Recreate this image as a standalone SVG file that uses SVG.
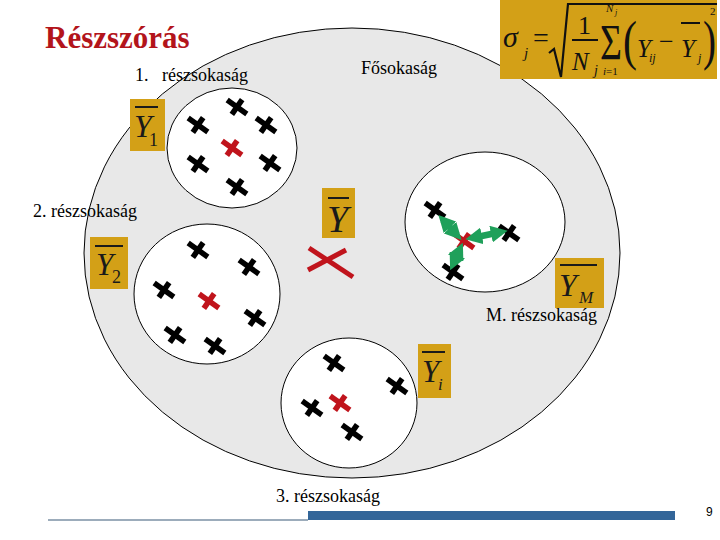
<svg xmlns="http://www.w3.org/2000/svg" xmlns:xlink="http://www.w3.org/1999/xlink" width="720" height="540" viewBox="0 0 720 540">
  <style>
    .lbl{font-family:"Liberation Serif","Times New Roman",serif;font-size:18px;fill:#000}
    .box{fill:#D3A017}
    .yv{font-family:"Liberation Serif","Times New Roman",serif;font-style:italic;fill:#1a1a1a}
    .sub{font-family:"Liberation Serif","Times New Roman",serif;fill:#1a1a1a}
    .bar{stroke:#1a1a1a;stroke-width:2}
    .circ{fill:#fff;stroke:#000;stroke-width:1}
    .fm{font-family:"Liberation Serif","Times New Roman",serif;fill:#111}
    .it{font-style:italic}
    .arr{stroke:#1FA05A;stroke-width:6.5;fill:none;marker-start:url(#ah);marker-end:url(#ah)}
  </style>
  <defs>
    <g id="xb">
      <g transform="rotate(35)">
        <line x1="-12" y1="0" x2="12" y2="0" stroke-width="5.5"/>
        <line x1="0" y1="-9" x2="0" y2="9" stroke-width="5.5"/>
      </g>
    </g>
    <marker id="ah" viewBox="0 0 10 10" refX="6" refY="5" markerWidth="2.6" markerHeight="2.6" orient="auto-start-reverse" markerUnits="strokeWidth">
      <path d="M0,0 L10,5 L0,10 z" fill="#1FA05A"/>
    </marker>
  </defs>

  <rect width="720" height="540" fill="#fff"/>

  <g id="population">
    <ellipse cx="352" cy="253" rx="268" ry="225" fill="#E8E8E8" stroke="#000" stroke-width="1"/>
    <text class="lbl" x="361" y="74">Fősokaság</text>
  </g>

  <g id="title">
    <text x="45" y="48" font-family="Liberation Serif,'Times New Roman',serif" font-weight="bold" font-size="31" fill="#B3141B">Részszórás</text>
  </g>

  <g id="formula">
    <rect x="500" y="0" width="217" height="79" fill="#D3A017"/>
    <text class="fm it" x="503" y="47" font-size="30">σ</text>
    <text class="fm it" x="524" y="58" font-size="15">j</text>
    <text class="fm" x="533" y="47" font-size="28">=</text>
    <polyline points="549,53 554,49 561,77 568,4 717,4" fill="none" stroke="#111" stroke-width="2.2"/>
    <text class="fm" x="578" y="34" font-size="26">1</text>
    <line x1="572" y1="40" x2="598" y2="40" stroke="#111" stroke-width="2"/>
    <text class="fm it" x="572" y="70" font-size="25">N</text>
    <text class="fm it" x="594" y="75" font-size="14">j</text>
    <text class="fm it" x="606" y="12" font-size="11">N</text>
    <text class="fm it" x="615" y="15" font-size="8">j</text>
    <text class="fm" x="600" y="59" font-size="50" textLength="22" lengthAdjust="spacingAndGlyphs">Σ</text>
    <text class="fm" x="603" y="75" font-size="11"><tspan class="it">i</tspan>=1</text>
    <text class="fm" x="623" y="59" font-size="54" textLength="14" lengthAdjust="spacingAndGlyphs">(</text>
    <text class="fm it" x="637" y="57" font-size="25">Y</text>
    <text class="fm it" x="649" y="62" font-size="12">ij</text>
    <text class="fm" x="659" y="50" font-size="26">−</text>
    <line x1="681" y1="23" x2="700" y2="23" stroke="#111" stroke-width="2"/>
    <text class="fm it" x="681" y="57" font-size="25">Y</text>
    <text class="fm it" x="698" y="62" font-size="12">j</text>
    <text class="fm" x="703" y="59" font-size="54" textLength="13" lengthAdjust="spacingAndGlyphs">)</text>
    <text class="fm" x="710" y="15" font-size="11">2</text>
  </g>

  <g id="group1">
    <ellipse class="circ" cx="232" cy="148" rx="65" ry="60"/>
    <text class="lbl" x="135" y="81" xml:space="preserve">1.   részsokaság</text>
    <g stroke="#000">
      <use xlink:href="#xb" x="198" y="125"/>
      <use xlink:href="#xb" x="237" y="107"/>
      <use xlink:href="#xb" x="266" y="125"/>
      <use xlink:href="#xb" x="198" y="164"/>
      <use xlink:href="#xb" x="270" y="163"/>
      <use xlink:href="#xb" x="237" y="187"/>
    </g>
    <use xlink:href="#xb" x="232" y="148" stroke="#C0141C"/>
    <rect class="box" x="130" y="99" width="35" height="52"/>
    <line class="bar" x1="135" y1="107" x2="158" y2="107"/>
    <text class="yv" x="134" y="137" font-size="32">Y</text>
    <text class="sub" x="149" y="146" font-size="18">1</text>
  </g>

  <g id="group2">
    <ellipse class="circ" cx="207" cy="294" rx="73" ry="70"/>
    <text class="lbl" x="33" y="217">2. részsokaság</text>
    <g stroke="#000">
      <use xlink:href="#xb" x="198" y="250"/>
      <use xlink:href="#xb" x="249" y="267"/>
      <use xlink:href="#xb" x="164" y="290"/>
      <use xlink:href="#xb" x="255" y="318"/>
      <use xlink:href="#xb" x="175" y="335"/>
      <use xlink:href="#xb" x="215" y="346"/>
    </g>
    <use xlink:href="#xb" x="209" y="301" stroke="#C0141C"/>
    <rect class="box" x="90" y="237" width="38" height="52"/>
    <line class="bar" x1="95" y1="246" x2="123" y2="246"/>
    <text class="yv" x="96" y="275" font-size="31">Y</text>
    <text class="sub" x="112" y="283" font-size="18">2</text>
  </g>

  <g id="group3">
    <ellipse class="circ" cx="349" cy="403" rx="68" ry="65"/>
    <text class="lbl" x="276" y="502">3. részsokaság</text>
    <g stroke="#000">
      <use xlink:href="#xb" x="334" y="363"/>
      <use xlink:href="#xb" x="397" y="386"/>
      <use xlink:href="#xb" x="312" y="408"/>
      <use xlink:href="#xb" x="352" y="432"/>
    </g>
    <use xlink:href="#xb" x="340" y="403" stroke="#C0141C"/>
    <rect class="box" x="418" y="344" width="33" height="54"/>
    <line class="bar" x1="422" y1="352" x2="445" y2="352"/>
    <text class="yv" x="422" y="382" font-size="31">Y</text>
    <text class="yv" x="438" y="390" font-size="17">i</text>
  </g>

  <g id="groupM">
    <ellipse class="circ" cx="485" cy="222" rx="80" ry="70"/>
    <text class="lbl" x="486" y="321">M. részsokaság</text>
    <g stroke="#000">
      <use xlink:href="#xb" x="435" y="210"/>
      <use xlink:href="#xb" x="509" y="233"/>
      <use xlink:href="#xb" x="453" y="272"/>
    </g>
    <use xlink:href="#xb" x="464" y="241" stroke="#C0141C"/>
    <rect class="box" x="555" y="258" width="49" height="50"/>
    <line class="bar" x1="560" y1="265" x2="597" y2="265"/>
    <text class="yv" x="559" y="296" font-size="32">Y</text>
    <text class="yv" x="579" y="303" font-size="17">M</text>
  </g>

  <g id="grandmean">
    <rect class="box" x="322" y="188" width="33" height="50"/>
    <line class="bar" x1="328" y1="198" x2="349" y2="198"/>
    <text class="yv" x="327" y="232" font-size="38">Y</text>
    <g stroke="#C0141C" stroke-width="5">
      <line x1="309" y1="248" x2="353" y2="277"/>
      <line x1="308" y1="270" x2="346" y2="250"/>
    </g>
  </g>

  <g id="connectors">
    <line class="arr" x1="443" y1="220" x2="457" y2="235"/>
    <line class="arr" x1="472" y1="238" x2="501" y2="232"/>
    <line class="arr" x1="460" y1="249" x2="453" y2="264"/>
  </g>

  <g id="footer">
    <line x1="48" y1="520" x2="308" y2="520" stroke="#3A5A78" stroke-width="1.2"/>
    <rect x="308" y="511" width="367" height="9" fill="#336699"/>
    <text x="706" y="516" font-family="Liberation Sans,Arial,sans-serif" font-size="12" fill="#000">9</text>
  </g>
</svg>
